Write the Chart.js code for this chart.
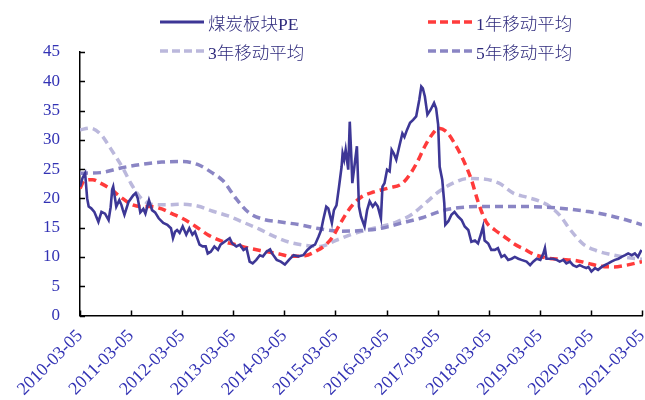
<!DOCTYPE html>
<html>
<head>
<meta charset="utf-8">
<script src="https://cdn.jsdelivr.net/npm/chart.js@4.4.1/dist/chart.umd.min.js"></script>
<style>
  html, body { margin: 0; padding: 0; background: #fff; }
  #wrap { position: relative; width: 645px; height: 400px; }
  canvas { position: absolute; left: 0; top: 0; }
  .lg { position: absolute; display: flex; align-items: center; height: 24px;
        font-family: "Liberation Serif", "Noto Sans CJK SC", serif; font-size: 17.5px; font-weight: 300; color: #2e2a7c; }
  .lg svg { margin-right: 4px; }
</style>
</head>
<body>
<div id="wrap">
  <canvas id="c" width="645" height="400"></canvas>
  <div class="lg" style="left:160px; top:10px;"><svg width="44" height="6"><line x1="0" y1="3" x2="44" y2="3" stroke="#3d3796" stroke-width="3"/></svg>煤炭板块PE</div>
  <div class="lg" style="left:428px; top:10px;"><svg width="44" height="6"><line x1="0" y1="3" x2="44" y2="3" stroke="#ff3b3b" stroke-width="3.5" stroke-dasharray="8,4"/></svg>1年移动平均</div>
  <div class="lg" style="left:160px; top:39px;"><svg width="44" height="6"><line x1="0" y1="3" x2="44" y2="3" stroke="#bbb8dc" stroke-width="3.5" stroke-dasharray="8,4"/></svg>3年移动平均</div>
  <div class="lg" style="left:428px; top:39px;"><svg width="44" height="6"><line x1="0" y1="3" x2="44" y2="3" stroke="#8a85c4" stroke-width="3.5" stroke-dasharray="8,4"/></svg>5年移动平均</div>
</div>
<script>
// x positions are years elapsed since 2010-03-05
const xTickLabels = ['2010-03-05','2011-03-05','2012-03-05','2013-03-05','2014-03-05','2015-03-05',
                     '2016-03-05','2017-03-05','2018-03-05','2019-03-05','2020-03-05','2021-03-05'];

// 煤炭板块PE
const peT = [0.00,0.05,0.10,0.14,0.17,0.22,0.28,0.36,0.42,0.49,0.56,0.60,0.63,0.65,0.71,0.77,0.81,0.84,0.87,0.95,
  1.04,1.09,1.13,1.18,1.24,1.28,1.35,1.41,1.47,1.54,1.63,1.71,1.78,1.82,1.86,1.90,1.95,
  2.01,2.08,2.14,2.20,2.25,2.34,2.40,2.46,2.50,2.56,2.63,2.70,2.75,2.83,2.93,2.98,
  3.06,3.13,3.20,3.26,3.32,3.38,3.45,3.52,3.58,3.65,3.72,3.76,3.85,3.93,
  4.01,4.09,4.18,4.27,4.37,4.45,4.53,4.60,4.67,4.72,4.76,4.82,4.86,4.93,4.97,
  5.02,5.07,5.12,5.14,5.17,5.20,5.25,5.28,5.31,5.33,5.37,5.42,5.46,5.50,5.57,5.62,5.67,5.73,5.78,5.83,5.89,5.92,5.96,
  6.01,6.06,6.10,6.14,6.19,6.25,6.31,6.35,6.40,6.46,6.52,6.58,6.64,6.68,6.71,6.75,6.80,6.86,6.93,6.97,
  7.01,7.04,7.09,7.13,7.15,7.21,7.27,7.33,7.40,7.47,7.53,7.60,7.66,7.73,7.79,7.84,7.89,7.92,7.99,
  8.05,8.12,8.18,8.25,8.31,8.38,8.45,8.51,8.58,8.64,8.74,8.81,8.87,8.94,
  9.01,9.07,9.10,9.13,9.20,9.26,9.33,9.39,9.46,9.52,9.59,9.65,9.72,9.78,9.85,9.91,9.95,
  10.01,10.08,10.14,10.21,10.27,10.34,10.40,10.47,10.54,10.60,10.67,10.73,10.80,10.86,10.92,10.99];
const peV = [22.0,23.5,24.3,20.0,18.6,18.3,17.7,16.0,17.7,17.4,16.3,18.5,21.5,22.0,18.6,19.7,18.9,18.0,17.2,19.4,
  20.5,20.9,20.0,17.6,18.2,17.4,19.7,18.0,17.6,16.6,15.8,15.5,14.9,13.2,14.3,14.6,14.1,
  15.2,13.8,14.9,13.8,14.3,12.1,11.8,11.8,10.6,10.9,11.8,11.2,12.1,12.6,13.2,12.3,
  11.8,12.1,11.2,11.5,9.2,8.9,9.5,10.3,10.1,10.9,11.3,10.6,9.5,9.2,
  8.7,9.5,10.3,10.1,10.3,11.2,11.8,12.1,13.5,14.6,16.3,18.6,18.3,15.8,18.0,
  18.8,22.0,25.4,27.7,26.6,28.3,24.9,33.1,27.2,22.6,25.4,28.9,18.6,16.9,15.2,18.0,19.5,18.6,19.2,18.6,16.6,22.0,22.6,
  24.9,24.6,28.3,27.7,26.6,28.9,31.1,30.5,31.7,32.9,33.4,34.0,36.8,39.1,38.8,37.4,34.3,35.1,36.3,35.4,
  32.6,25.4,23.2,19.2,15.5,16.1,17.2,17.7,16.9,16.3,15.2,14.6,12.6,12.8,12.3,13.7,15.2,12.8,12.3,
  11.2,11.2,11.5,10.0,10.3,9.5,9.7,10.0,9.7,9.5,9.2,8.6,9.2,9.7,
  9.5,10.6,11.5,9.7,9.7,9.7,9.5,9.2,9.5,8.9,9.2,8.6,8.3,8.6,8.3,8.1,8.3,
  7.5,8.1,7.8,8.3,8.6,8.9,9.2,9.5,9.7,10.0,10.3,10.6,10.3,10.6,10.0,11.2];

// 1年移动平均
const ma1T = [0,0.08,0.25,0.4,0.6,0.8,1.0,1.2,1.4,1.6,1.8,2.0,2.25,2.5,2.75,3.0,3.3,3.6,3.9,4.15,4.4,4.6,4.8,4.95,
  5.1,5.3,5.5,5.75,6.05,6.3,6.45,6.6,6.75,6.9,7.02,7.17,7.33,7.5,7.66,7.8,7.95,8.12,8.3,8.5,8.7,8.9,
  9.15,9.4,9.7,9.95,10.2,10.45,10.7,11.0];
const ma1V = [21.7,23.0,23.2,22.6,21.6,20.2,19.0,18.6,18.6,18.2,17.4,16.6,15.3,13.8,12.8,12.2,11.5,11.0,10.5,10.1,10.2,10.9,12.0,13.5,
  15.8,18.5,20.2,21.1,21.8,22.5,24.0,26.2,28.9,31.0,32.0,31.4,29.4,26.6,23.2,19.2,16.0,14.6,13.5,12.2,11.3,10.4,
  9.8,9.6,9.4,8.9,8.4,8.3,8.6,9.2];

// 3年移动平均
const ma3T = [0,0.2,0.4,0.6,0.85,1.0,1.2,1.4,1.7,2.0,2.3,2.6,2.9,3.2,3.5,3.8,4.1,4.4,4.7,5.0,5.3,5.6,5.9,6.2,6.5,6.8,7.0,
  7.3,7.6,7.9,8.2,8.5,8.75,9.0,9.2,9.4,9.6,9.85,10.1,10.4,10.7,11.0];
const ma3V = [31.7,32.0,31.0,28.5,25.0,22.5,20.0,19.0,18.9,19.0,18.7,17.8,17.0,15.9,14.8,13.5,12.5,12.0,11.8,12.8,13.8,14.6,15.2,16.0,17.3,19.5,21.0,
  22.6,23.4,23.3,22.6,20.8,20.2,19.5,18.6,17.0,14.6,12.2,11.1,10.4,9.9,9.6];

// 5年移动平均
const ma5T = [0,0.4,0.8,1.2,1.6,2.0,2.3,2.6,2.8,3.06,3.3,3.6,3.9,4.3,4.7,5.1,5.5,5.9,6.3,6.7,7.1,7.4,7.8,8.3,8.8,9.3,9.9,10.3,10.7,11.0];
const ma5V = [24.3,24.4,25.2,25.8,26.2,26.3,25.8,24.3,23.0,19.9,17.6,16.4,16.0,15.5,14.8,14.4,14.5,14.9,15.8,16.7,17.9,18.4,18.6,18.6,18.6,18.4,17.8,17.2,16.3,15.5];

const yMin = 0, yMax = 45, yStep = 5;

const pts = (ts, vs) => ts.map((t, i) => ({ x: t, y: vs[i] }));

// short tick marks pointing into the plot area
const innerTicks = {
  id: 'innerTicks',
  afterDraw(chart) {
    const { ctx, chartArea: a, scales: { x, y } } = chart;
    ctx.save();
    ctx.strokeStyle = '#000';
    ctx.lineWidth = 1.5;
    ctx.beginPath();
    y.ticks.forEach(t => {
      const py = Math.round(y.getPixelForValue(t.value)) + 0.5;
      ctx.moveTo(a.left, py); ctx.lineTo(a.left + 5, py);
    });
    x.ticks.forEach(t => {
      const px = Math.round(x.getPixelForValue(t.value)) + 0.5;
      ctx.moveTo(px, a.bottom); ctx.lineTo(px, a.bottom - 5);
    });
    ctx.stroke();
    ctx.restore();
  }
};

const serif = '"Liberation Serif", "Times New Roman", serif';
const tickColor = '#3232b4';

new Chart(document.getElementById('c'), {
  type: 'line',
  data: {
    datasets: [
      { label: '煤炭板块PE', data: pts(peT, peV), borderColor: '#3d3796', borderWidth: 2.6,
        pointRadius: 0, tension: 0, order: 0 },
      { label: '1年移动平均', data: pts(ma1T, ma1V), borderColor: '#ff3b3b', borderWidth: 3.5,
        borderDash: [8, 5], pointRadius: 0, cubicInterpolationMode: 'monotone', order: 1 },
      { label: '3年移动平均', data: pts(ma3T, ma3V), borderColor: '#bbb8dc', borderWidth: 3.5,
        borderDash: [8, 5], pointRadius: 0, cubicInterpolationMode: 'monotone', order: 3 },
      { label: '5年移动平均', data: pts(ma5T, ma5V), borderColor: '#8a85c4', borderWidth: 3.5,
        borderDash: [8, 5], pointRadius: 0, cubicInterpolationMode: 'monotone', order: 2 }
    ]
  },
  options: {
    responsive: false,
    animation: false,
    events: [],
    layout: { padding: { top: 52, right: 3, left: 0, bottom: 0 } },
    plugins: { legend: { display: false }, tooltip: { enabled: false } },
    scales: {
      x: {
        type: 'linear', min: 0, max: xTickLabels.length - 1,
        afterFit: s => { s.height = 84.5; s.paddingLeft = 0; s.paddingRight = 0; },
        afterBuildTicks: s => { s.ticks = xTickLabels.map((_, i) => ({ value: i })); },
        grid: { drawOnChartArea: false, drawTicks: false },
        border: { color: '#000', width: 1.5 },
        ticks: { autoSkip: false, minRotation: 45, maxRotation: 45, padding: 10,
                 color: tickColor, font: { family: serif, size: 18 },
                 callback: v => xTickLabels[v] }
      },
      y: {
        min: yMin, max: yMax,
        afterFit: s => { s.width = 80; },
        grid: { drawOnChartArea: false, drawTicks: false },
        border: { color: '#000', width: 1.5 },
        ticks: { stepSize: yStep, padding: 20, color: tickColor, font: { family: serif, size: 17 } }
      }
    }
  },
  plugins: [innerTicks]
});
</script>
</body>
</html>
